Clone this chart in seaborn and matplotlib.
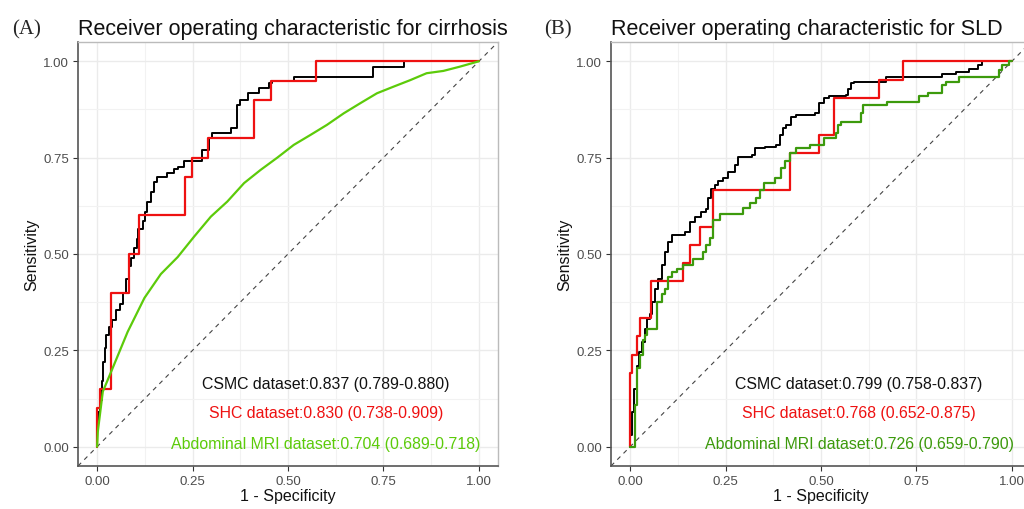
import matplotlib
matplotlib.use("Agg")
import matplotlib.pyplot as plt
import seaborn as sns
import pandas as pd

# ---- panel A: cirrhosis ----
a_csmc_fpr = [0, 0, 0.003, 0.008, 0.012, 0.016, 0.020, 0.023, 0.030, 0.038, 0.050, 0.060,
              0.068, 0.076, 0.083, 0.090, 0.097, 0.104, 0.108, 0.119, 0.126, 0.132, 0.141,
              0.148, 0.156, 0.184, 0.202, 0.211, 0.228, 0.276, 0.293, 0.302, 0.352, 0.366,
              0.374, 0.395, 0.424, 0.450, 0.457, 0.515, 0.722, 0.804, 1.0]
a_csmc_tpr = [0, 0.06, 0.09, 0.12, 0.17, 0.22, 0.255, 0.29, 0.31, 0.33, 0.355, 0.37,
              0.40, 0.436, 0.47, 0.49, 0.515, 0.54, 0.565, 0.585, 0.61, 0.636, 0.66,
              0.688, 0.70, 0.709, 0.72, 0.727, 0.74, 0.77, 0.80, 0.813, 0.828, 0.887,
              0.90, 0.917, 0.93, 0.943, 0.949, 0.958, 0.986, 1.0, 1.0]

a_shc_fpr = [0, 0, 0.008, 0.036, 0.083, 0.109, 0.23, 0.248, 0.29, 0.41, 0.456, 0.574, 1.0]
a_shc_tpr = [0, 0.10, 0.15, 0.40, 0.50, 0.60, 0.70, 0.75, 0.80, 0.90, 0.95, 1.00, 1.00]

a_mri_fpr = [0, 0.002, 0.015, 0.037, 0.080, 0.124, 0.167, 0.211, 0.254, 0.298, 0.341, 0.385,
             0.428, 0.472, 0.515, 0.559, 0.602, 0.646, 0.689, 0.733, 0.776, 0.820, 0.863,
             0.907, 0.950, 1.0]
a_mri_tpr = [0, 0.04, 0.143, 0.195, 0.298, 0.386, 0.448, 0.492, 0.545, 0.597, 0.636, 0.684,
             0.718, 0.750, 0.783, 0.809, 0.835, 0.865, 0.891, 0.917, 0.934, 0.951, 0.969,
             0.975, 0.986, 1.0]

# ---- panel B: SLD ----
b_csmc_fpr = [0, 0.001, 0.004, 0.011, 0.017, 0.023, 0.032, 0.039, 0.044, 0.052, 0.058, 0.065,
              0.074, 0.083, 0.091, 0.100, 0.109, 0.144, 0.157, 0.170, 0.185, 0.200, 0.204,
              0.213, 0.222, 0.231, 0.244, 0.257, 0.274, 0.283, 0.318, 0.327, 0.353, 0.383,
              0.392, 0.400, 0.409, 0.422, 0.435, 0.483, 0.496, 0.509, 0.522, 0.566, 0.570,
              0.579, 0.587, 0.670, 0.818, 0.853, 0.888, 0.910, 0.922, 1.0]
b_csmc_tpr = [0, 0.03, 0.09, 0.15, 0.21, 0.246, 0.272, 0.306, 0.332, 0.345, 0.376, 0.41,
              0.436, 0.471, 0.506, 0.532, 0.549, 0.558, 0.582, 0.595, 0.61, 0.618, 0.644,
              0.668, 0.679, 0.690, 0.698, 0.714, 0.731, 0.752, 0.757, 0.774, 0.778, 0.782,
              0.808, 0.826, 0.834, 0.856, 0.861, 0.866, 0.891, 0.904, 0.910, 0.913, 0.927,
              0.943, 0.947, 0.958, 0.967, 0.973, 0.979, 0.990, 1.0, 1.0]

b_shc_fpr = [0, 0, 0.006, 0.017, 0.026, 0.055, 0.139, 0.157, 0.183, 0.216, 0.420, 0.494,
             0.533, 0.651, 0.716, 1.0]
b_shc_tpr = [0, 0.190, 0.238, 0.286, 0.333, 0.429, 0.476, 0.524, 0.571, 0.667, 0.762, 0.810,
             0.905, 0.952, 1.0, 1.0]

b_mri_fpr = [0, 0.013, 0.013, 0.017, 0.026, 0.035, 0.040, 0.044, 0.070, 0.083, 0.091, 0.100,
             0.109, 0.122, 0.139, 0.165, 0.192, 0.200, 0.209, 0.218, 0.235, 0.296, 0.313,
             0.331, 0.340, 0.352, 0.379, 0.396, 0.405, 0.418, 0.435, 0.470, 0.509, 0.540,
             0.544, 0.553, 0.605, 0.609, 0.674, 0.757, 0.779, 0.818, 0.827, 0.862, 0.966,
             0.975, 0.992, 1.0]
b_mri_tpr = [0, 0.01, 0.107, 0.203, 0.237, 0.276, 0.289, 0.306, 0.376, 0.395, 0.41, 0.441,
             0.454, 0.462, 0.472, 0.486, 0.505, 0.523, 0.541, 0.588, 0.603, 0.620, 0.633,
             0.644, 0.666, 0.683, 0.697, 0.722, 0.740, 0.761, 0.774, 0.783, 0.800, 0.813,
             0.834, 0.843, 0.865, 0.887, 0.895, 0.910, 0.917, 0.938, 0.947, 0.960, 0.977,
             0.990, 1.0, 1.0]

a_labels = ["CSMC dataset:0.837 (0.789-0.880)",
            "SHC dataset:0.830 (0.738-0.909)",
            "Abdominal MRI dataset:0.704 (0.689-0.718)"]
b_labels = ["CSMC dataset:0.799 (0.758-0.837)",
            "SHC dataset:0.768 (0.652-0.875)",
            "Abdominal MRI dataset:0.726 (0.659-0.790)"]

titles = ["Receiver operating characteristic for cirrhosis",
          "Receiver operating characteristic for SLD"]
panel_tags = ["(A)", "(B)"]
ticks = [0.0, 0.25, 0.5, 0.75, 1.0]
tick_labels = ["0.00", "0.25", "0.50", "0.75", "1.00"]

sns.set_theme(style="whitegrid")
plt.rcParams['font.family'] = ['Liberation Sans', 'DejaVu Sans']

fig = plt.figure(figsize=(10.24, 5.10), dpi=100)
ax_a = fig.add_axes([78 / 1024, 43 / 510, 420 / 1024, 424 / 510])
ax_b = fig.add_axes([611 / 1024, 43 / 510, 420 / 1024, 424 / 510])

panels = [
    (ax_a, [(a_csmc_fpr, a_csmc_tpr, "black", 1.4, True),
            (a_shc_fpr, a_shc_tpr, "#EE1111", 1.6, True),
            (a_mri_fpr, a_mri_tpr, "#5CCB0A", 1.6, False)], a_labels,
     ["#111111", "#EE1111", "#5CCB0A"]),
    (ax_b, [(b_csmc_fpr, b_csmc_tpr, "black", 1.4, True),
            (b_shc_fpr, b_shc_tpr, "#EE1111", 1.6, True),
            (b_mri_fpr, b_mri_tpr, "#3C9A0C", 1.6, True)], b_labels,
     ["#111111", "#EE1111", "#3C9A0C"]),
]

for i, (ax, curves, labels, txt_cols) in enumerate(panels):
    ax.set_facecolor("white")
    ax.axline((0, 0), (1, 1), color="#444444", lw=0.8, ls=(0, (4, 4)), zorder=2)
    for fpr, tpr, col, lw, step in curves:
        df = pd.DataFrame({"fpr": fpr, "tpr": tpr})
        kw = {"drawstyle": "steps-post"} if step else {}
        sns.lineplot(data=df, x="fpr", y="tpr", color=col, lw=lw, sort=False,
                     estimator=None, ax=ax, zorder=3, **kw)
    for lab, yy, c in zip(labels, [0.165, 0.088, 0.008], txt_cols):
        ax.text(0.60, yy, lab, color=c, fontsize=11.4, ha="center", va="center", zorder=4)

    ax.set_xlim(-0.05, 1.05)
    ax.set_ylim(-0.05, 1.05)
    ax.set_xticks(ticks)
    ax.set_xticklabels(tick_labels)
    ax.set_yticks(ticks)
    ax.set_yticklabels(tick_labels)
    ax.set_xticks([0.125, 0.375, 0.625, 0.875], minor=True)
    ax.set_yticks([0.125, 0.375, 0.625, 0.875], minor=True)
    ax.grid(which="major", color="#EBEBEB", lw=1.0)
    ax.grid(which="minor", color="#F2F2F2", lw=0.8)
    ax.tick_params(which="major", length=3.5, width=0.8, color="#333333",
                   labelsize=9.5, labelcolor="#4D4D4D", pad=3, left=True, bottom=True)
    ax.tick_params(which="minor", length=0)
    for side in ["left", "bottom"]:
        ax.spines[side].set_color("#555555")
        ax.spines[side].set_linewidth(1.2)
    for side in ["top", "right"]:
        ax.spines[side].set_color("#BBBBBB")
        ax.spines[side].set_linewidth(1.0)
    ax.set_xlabel("1 - Specificity", fontsize=11.5, labelpad=1, color="#111111")
    ax.set_ylabel("Sensitivity", fontsize=11.5, labelpad=3, color="#111111")
    ax.set_title(titles[i], fontsize=15.5, loc="left", pad=6, color="#111111")

fig.text(12 / 1024, 1 - 30 / 510, panel_tags[0], fontsize=15, family="Liberation Serif",
         va="center", ha="left")
fig.text(544 / 1024, 1 - 30 / 510, panel_tags[1], fontsize=15, family="Liberation Serif",
         va="center", ha="left")

fig.savefig("out.png", dpi=100)
